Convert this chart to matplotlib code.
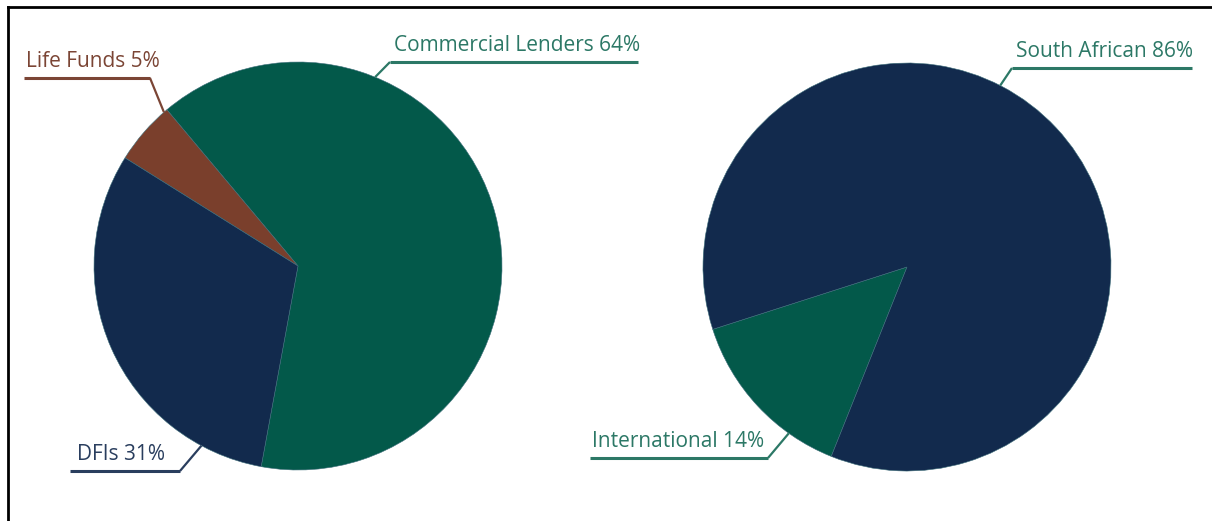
import numpy as np
import matplotlib
matplotlib.use("Agg")
import matplotlib.pyplot as plt
from matplotlib.lines import Line2D

plt.rcParams['font.family'] = ['Open Sans', 'DejaVu Sans']

# funding by lender type
lender_labels = ['Commercial Lenders', 'Life Funds', 'DFIs']
lender_share = [64, 5, 31]
lender_colors = ['#03594a', '#7a3f2c', '#122a4d']
lender_text = ['#2c7866', '#7b4535', '#2a3e5e']

# funding by origin
origin_labels = ['International', 'South African']
origin_share = [14, 86]
origin_colors = ['#03594a', '#122a4d']
origin_text = ['#2c7866', '#2c7866']

W, H = 1212, 521
fig = plt.figure(figsize=(W / 100, H / 100), dpi=100)
fig.patch.set_facecolor('white')

R = 204  # pie radius in pixels


def pie_axes(cx, cy):
    return fig.add_axes([(cx - R) / W, (H - cy - R) / H, 2 * R / W, 2 * R / H])


def leader(ax, wedge, frac, line_x0, line_x1, line_y, elbow_x, text, color,
           text_dx=0.02):
    # point on the wedge rim, then a diagonal up to an underline under the label
    ang = np.deg2rad(wedge.theta1 + frac * (wedge.theta2 - wedge.theta1))
    px, py = np.cos(ang), np.sin(ang)
    ax.plot([px, elbow_x], [py, line_y], color=color, lw=1.6,
            solid_capstyle='butt', clip_on=False)
    ax.plot([line_x0, line_x1], [line_y, line_y], color=color, lw=2.2,
            solid_capstyle='butt', clip_on=False)
    ax.text(line_x0 + text_dx, line_y + 0.03, text, color=color, fontsize=15,
            ha='left', va='bottom', clip_on=False)


def px2d(v, c):
    return (v - c) / R


# left pie: lender type
ax1 = pie_axes(298, 266)
w1, _ = ax1.pie(lender_share, colors=lender_colors, startangle=130 - 360 * 0.64,
                counterclock=True, radius=1,
                wedgeprops=dict(edgecolor='#3d6e7a', linewidth=0.4))
ax1.set_xlim(-1, 1)
ax1.set_ylim(-1, 1)
ax1.set_aspect('equal')
ax1.axis('off')

cx, cy = 298, 266
leader(ax1, w1[0], 0.73, px2d(390, cx), px2d(638, cx), -px2d(62, cy), px2d(390, cx),
       f'{lender_labels[0]} {lender_share[0]}%', lender_text[0])
leader(ax1, w1[1], 0.06, px2d(24, cx), px2d(150, cx), -px2d(78, cy), px2d(150, cx),
       f'{lender_labels[1]} {lender_share[1]}%', lender_text[1], text_dx=0.01)
leader(ax1, w1[2], 0.84, px2d(70, cx), px2d(180, cx), -px2d(471, cy), px2d(180, cx),
       f'{lender_labels[2]} {lender_share[2]}%', lender_text[2], text_dx=0.035)

# right pie: origin
ax2 = pie_axes(907, 267)
w2, _ = ax2.pie(origin_share, colors=origin_colors, startangle=223 - 360 * 0.14 / 2,
                counterclock=True, radius=1,
                wedgeprops=dict(edgecolor='#3d6e7a', linewidth=0.4))
ax2.set_xlim(-1, 1)
ax2.set_ylim(-1, 1)
ax2.set_aspect('equal')
ax2.axis('off')

cx, cy = 907, 267
leader(ax2, w2[0], 0.73, px2d(590, cx), px2d(768, cx), -px2d(458, cy), px2d(768, cx),
       f'{origin_labels[0]} {origin_share[0]}%', origin_text[0], text_dx=0.01)
leader(ax2, w2[1], 0.564, px2d(1012, cx), px2d(1192, cx), -px2d(68, cy), px2d(1012, cx),
       f'{origin_labels[1]} {origin_share[1]}%', origin_text[1], text_dx=0.02)

# frame along the top and left edge
fig.add_artist(Line2D([8 / W, 1], [1 - 7 / H, 1 - 7 / H], color='black', lw=2,
                      transform=fig.transFigure))
fig.add_artist(Line2D([8 / W, 8 / W], [0, 1 - 7 / H], color='black', lw=2,
                      transform=fig.transFigure))

fig.savefig('out.png', dpi=100, facecolor='white')
